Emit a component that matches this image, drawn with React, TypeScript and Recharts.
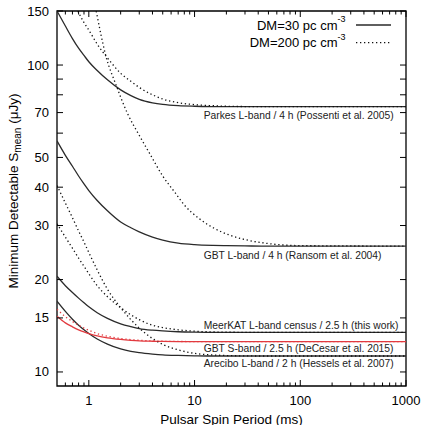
import React from 'react';
import { LineChart, Line, XAxis, YAxis, ReferenceArea, ReferenceDot, Legend, Label } from 'recharts';

// ---- data ----
const periods = [0.5, 0.6, 0.7, 0.8, 0.9, 1, 1.2, 1.5, 2, 2.5, 3, 4, 5, 7, 10, 15, 20, 30, 50, 100, 1000];

const parkesDM30 = [150, 134, 122, 113.5, 107.5, 102.5, 96, 89.5, 83, 79.5, 77.3, 75.3, 74.4, 73.7, 73.4, 73.25, 73.2, 73.2, 73.2, 73.2, 73.2];
const gbtLDM30 = [56.6, 50.8, 46.8, 43.5, 41, 39, 36.2, 33.5, 30.8, 29.5, 28.6, 27.5, 26.9, 26.3, 26, 25.85, 25.8, 25.75, 25.7, 25.7, 25.7];
const meerkatDM30 = [20.5, 19.1, 18.15, 17.4, 16.8, 16.3, 15.6, 14.95, 14.35, 14.05, 13.85, 13.68, 13.6, 13.52, 13.48, 13.46, 13.45, 13.45, 13.45, 13.45, 13.45];
const gbtSDM30 = [15.2, 14.45, 14.03, 13.72, 13.5, 13.33, 13.1, 12.91, 12.76, 12.68, 12.63, 12.59, 12.57, 12.56, 12.55, 12.55, 12.55, 12.55, 12.55, 12.55, 12.55];
const areciboDM30 = [17.0, 15.75, 14.85, 14.2, 13.72, 13.34, 12.8, 12.32, 11.88, 11.67, 11.56, 11.44, 11.37, 11.32, 11.29, 11.27, 11.27, 11.27, 11.27, 11.27, 11.27];

const meerkatDM200 = [30.4, 27.5, 25.3, 23.5, 22.1, 20.9, 19.1, 17.6, 16.2, 15.35, 14.8, 14.2, 13.95, 13.72, 13.58, 13.5, 13.48, 13.46, 13.45, 13.45, 13.45];
const gbtSDM200 = [16.0, 15.15, 14.6, 14.2, 13.9, 13.67, 13.34, 13.07, 12.85, 12.75, 12.68, 12.62, 12.59, 12.57, 12.56, 12.55, 12.55, 12.55, 12.55, 12.55, 12.55];
const areciboDM200 = [40.5, 35.5, 31.8, 28.8, 26.5, 24.5, 21.5, 18.6, 16.2, 14.8, 13.9, 12.85, 12.3, 11.8, 11.5, 11.36, 11.31, 11.28, 11.27, 11.27, 11.27];

const parkesDM200Periods = [0.787, 0.9, 1, 1.2, 1.5, 2, 2.5, 3, 4, 5, 7, 10, 15, 20, 30, 50, 100, 1000];
const parkesDM200 = [150, 137.5, 130, 117, 105.5, 94, 88.5, 84.5, 80, 77.5, 75.4, 74.3, 73.7, 73.4, 73.25, 73.2, 73.2, 73.2];

const gbtLDM200Periods = [1.175, 1.3, 1.45, 1.8, 2.3, 3, 3.76, 5, 6.5, 8, 11.2, 15, 21.6, 30, 50, 100, 1000];
const gbtLDM200 = [150, 126, 107, 86.5, 70, 59, 51.5, 43.5, 38.5, 35, 31.5, 29.5, 27.9, 27, 26.2, 25.8, 25.7];

const xMajorTicks = [1, 10, 100, 1000];
const xMinorTicks = [0.6, 0.7, 0.8, 0.9, 2, 3, 4, 5, 6, 7, 8, 9, 20, 30, 40, 50, 60, 70, 80, 90, 200, 300, 400, 500, 600, 700, 800, 900];
const yTicks = [10, 15, 20, 30, 40, 50, 60, 70, 80, 90, 100, 150];
const yTickLabels = [10, 15, 20, 30, 40, 50, 70, 100, 150];

const surveyNames = [
  'Parkes L-band / 4 h (Possenti et al. 2005)',
  'GBT L-band / 4 h (Ransom et al. 2004)',
  'MeerKAT L-band census / 2.5 h (this work)',
  'GBT S-band / 2.5 h (DeCesar et al. 2015)',
  'Arecibo L-band / 2 h (Hessels et al. 2007)',
];
const surveyLevels = [73.2, 25.7, 13.45, 12.55, 11.27];
const surveyLabelPeriod = 12.2;

const legendLabels = ['DM=30 pc cm', 'DM=200 pc cm'];

// ---- layout / style ----
const W = 423;
const H = 425;
const PLOT = { left: 57, right: 406, top: 11, bottom: 386 };
const FONT = '"Liberation Sans", Arial, Helvetica, sans-serif';
const SOLID = '#2a2a2a';
const DOTTED = '#111';
const RED = '#e23a3f';
const DOTS = '1.3 2.7';
const labelDy = [8.8, 9.3, -6.5, 7, 7.5];

const toPoints = (ps: number[], ss: number[]) => ps.map((p, i) => ({ p, s: ss[i] }));

const series = [
  { key: 'parkes30', data: toPoints(periods, parkesDM30), color: SOLID, dash: undefined },
  { key: 'gbtL30', data: toPoints(periods, gbtLDM30), color: SOLID, dash: undefined },
  { key: 'meerkat30', data: toPoints(periods, meerkatDM30), color: SOLID, dash: undefined },
  { key: 'arecibo30', data: toPoints(periods, areciboDM30), color: SOLID, dash: undefined },
  { key: 'gbtS30', data: toPoints(periods, gbtSDM30), color: RED, dash: undefined },
  { key: 'parkes200', data: toPoints(parkesDM200Periods, parkesDM200), color: DOTTED, dash: DOTS },
  { key: 'gbtL200', data: toPoints(gbtLDM200Periods, gbtLDM200), color: DOTTED, dash: DOTS },
  { key: 'meerkat200', data: toPoints(periods, meerkatDM200), color: DOTTED, dash: DOTS },
  { key: 'arecibo200', data: toPoints(periods, areciboDM200), color: DOTTED, dash: DOTS },
  { key: 'gbtS200', data: toPoints(periods, gbtSDM200), color: RED, dash: DOTS },
];

const allXTicks = [...xMinorTicks, ...xMajorTicks].sort((a, b) => a - b);

function XTick(props: any) {
  const { x, payload } = props;
  const v = payload.value;
  const major = xMajorTicks.includes(v);
  const len = major ? 6 : 3.5;
  return (
    <g>
      <line x1={x} x2={x} y1={PLOT.bottom} y2={PLOT.bottom - len} stroke="#000" strokeWidth={1} />
      <line x1={x} x2={x} y1={PLOT.top} y2={PLOT.top + len} stroke="#000" strokeWidth={1} />
      {major && (
        <text x={x} y={400} textAnchor="middle" dominantBaseline="central" fontSize={13} fontFamily={FONT} fill="#000">
          {v}
        </text>
      )}
    </g>
  );
}

function YTick(props: any) {
  const { y, payload } = props;
  const v = payload.value;
  const labelled = yTickLabels.includes(v);
  return (
    <g>
      <line x1={PLOT.left} x2={PLOT.left + 6} y1={y} y2={y} stroke="#000" strokeWidth={1} />
      <line x1={PLOT.right} x2={PLOT.right - 6} y1={y} y2={y} stroke="#000" strokeWidth={1} />
      {labelled && (
        <text x={49} y={y} textAnchor="end" dominantBaseline="central" fontSize={13} fontFamily={FONT} fill="#000">
          {v}
        </text>
      )}
    </g>
  );
}

function YTitle() {
  const cx = 13;
  const cy = 191;
  return (
    <text
      x={cx}
      y={cy}
      transform={`rotate(-90 ${cx} ${cy})`}
      textAnchor="middle"
      dominantBaseline="central"
      fontSize={13.5}
      fontFamily={FONT}
      fill="#000"
    >
      Minimum Detectable S
      <tspan fontSize={10} dy={3.5}>mean</tspan>
      <tspan dy={-3.5}> (μJy)</tspan>
    </text>
  );
}

function XTitle() {
  return (
    <text x={(PLOT.left + PLOT.right) / 2} y={419} textAnchor="middle" dominantBaseline="central" fontSize={13.5} fontFamily={FONT} fill="#000">
      Pulsar Spin Period (ms)
    </text>
  );
}

function LegendBox() {
  const rows = [11, 28.7];
  return (
    <svg width={200} height={40} style={{ display: 'block', overflow: 'visible' }}>
      {legendLabels.map((t, i) => (
        <g key={t}>
          <text x={145.5} y={rows[i]} textAnchor="end" dominantBaseline="central" fontSize={13} fontFamily={FONT} fill="#000">
            {t}
            <tspan fontSize={9} dy={-6}>-3</tspan>
          </text>
          <line
            x1={156}
            x2={191}
            y1={rows[i]}
            y2={rows[i]}
            stroke={i === 0 ? SOLID : DOTTED}
            strokeWidth={1.3}
            strokeDasharray={i === 0 ? undefined : DOTS}
          />
        </g>
      ))}
    </svg>
  );
}

export default function App() {
  return (
    <div style={{ position: 'absolute', left: 0, top: 0, width: W, height: H, background: '#fff' }}>
      <LineChart width={W} height={H} margin={{ top: PLOT.top, right: W - PLOT.right, bottom: 19, left: 0 }}>
        <XAxis
          dataKey="p"
          type="number"
          scale="log"
          domain={[0.5, 1000]}
          allowDataOverflow
          ticks={allXTicks}
          interval={0}
          tickLine={false}
          axisLine={false}
          height={20}
          tick={<XTick />}
          label={<Label content={<XTitle />} />}
        />
        <YAxis
          dataKey="s"
          type="number"
          scale="log"
          domain={[9, 150]}
          allowDataOverflow
          ticks={yTicks}
          interval={0}
          tickLine={false}
          axisLine={false}
          width={PLOT.left}
          tick={<YTick />}
          label={<Label content={<YTitle />} />}
        />
        <ReferenceArea x1={0.5} x2={1000} y1={9} y2={150} fill="none" stroke="#000" strokeWidth={1.3} ifOverflow="visible" />
        {series.map((s) => (
          <Line
            key={s.key}
            data={s.data}
            dataKey="s"
            type="monotone"
            stroke={s.color}
            strokeWidth={1.3}
            strokeDasharray={s.dash}
            dot={false}
            activeDot={false}
            legendType="none"
            isAnimationActive={false}
          />
        ))}
        {surveyNames.map((name, i) => (
          <ReferenceDot
            key={name}
            x={surveyLabelPeriod}
            y={surveyLevels[i]}
            r={0}
            ifOverflow="visible"
            shape={(p: any) => (
              <text x={p.cx} y={p.cy + labelDy[i]} dominantBaseline="central" fontSize={10.3} fontFamily={FONT} fill="#222">
                {name}
              </text>
            )}
          />
        ))}
        <Legend
          content={<LegendBox />}
          layout="vertical"
          verticalAlign="middle"
          align="center"
          wrapperStyle={{ position: 'absolute', left: 200, top: 14, width: 200, height: 40 }}
        />
      </LineChart>
    </div>
  );
}
